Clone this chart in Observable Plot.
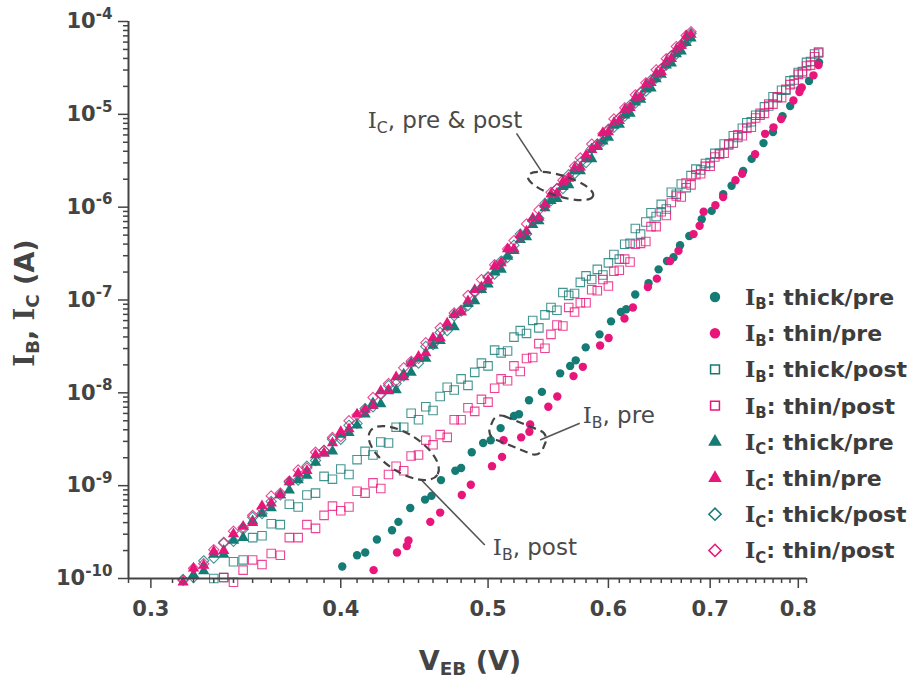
<!DOCTYPE html>
<html><head><meta charset="utf-8">
<script src="https://cdn.jsdelivr.net/npm/d3@7"></script>
<script src="https://cdn.jsdelivr.net/npm/@observablehq/plot@0.6"></script>
<style>
body{margin:0;background:#fff;}
#chart{width:916px;height:680px;}
</style></head><body><div id="chart"></div>
<script>
// ---------------- data (currents stored as log10 of I in amperes) ----------------
const xTickLabels = [0.3, 0.4, 0.5, 0.6, 0.7, 0.8];
const yTickExponents = [-10, -9, -8, -7, -6, -5, -4];

// I_B pre (filled circles)
const vIbThickPre = [0.4009,0.4100,0.4151,0.4225,0.4323,0.4365,0.4444,0.4545,0.4589,0.4656,0.4758,0.4800,0.4878,0.4963,0.5020,0.5096,0.5200,0.5240,0.5320,0.5425,0.5577,0.5662,0.5710,0.5797,0.5920,0.6024,0.6115,0.6164,0.6249,0.6376,0.6474,0.6557,0.6622,0.6688,0.6782,0.6911,0.7016,0.7140,0.7231,0.7359,0.7454,0.7589,0.7699,0.7811,0.7902,0.8022,0.8131,0.8255];
const logIbThickPre = [-9.87,-9.75,-9.72,-9.58,-9.48,-9.39,-9.24,-9.15,-9.11,-8.94,-8.84,-8.81,-8.64,-8.54,-8.51,-8.38,-8.25,-8.23,-8.08,-7.99,-7.79,-7.71,-7.65,-7.51,-7.37,-7.23,-7.13,-7.10,-6.94,-6.82,-6.67,-6.58,-6.54,-6.41,-6.31,-6.13,-6.04,-5.86,-5.77,-5.61,-5.48,-5.31,-5.19,-5.02,-4.91,-4.73,-4.64,-4.44];
const vIbThinPre = [0.4204,0.4356,0.4421,0.4432,0.4581,0.4650,0.4805,0.4871,0.5030,0.5107,0.5119,0.5257,0.5323,0.5329,0.5478,0.5553,0.5691,0.5772,0.5925,0.6002,0.6148,0.6227,0.6370,0.6457,0.6588,0.6672,0.6826,0.6889,0.6931,0.7056,0.7139,0.7274,0.7348,0.7493,0.7608,0.7705,0.7794,0.7941,0.8014,0.8042,0.8186,0.8248];
const logIbThinPre = [-9.91,-9.72,-9.65,-9.59,-9.39,-9.29,-9.10,-8.99,-8.79,-8.69,-8.51,-8.48,-8.42,-8.34,-8.15,-8.04,-7.82,-7.72,-7.49,-7.41,-7.20,-7.08,-6.86,-6.77,-6.58,-6.47,-6.29,-6.20,-6.05,-5.98,-5.89,-5.71,-5.64,-5.43,-5.21,-5.14,-5.05,-4.85,-4.76,-4.71,-4.58,-4.47];

// I_B post (open squares), shared voltage sweep
const vIbPost = [0.330,0.335,0.340,0.345,0.350,0.355,0.360,0.365,0.370,0.375,0.380,0.385,0.390,0.395,0.400,0.405,0.410,0.415,0.420,0.425,0.430,0.435,0.440,0.445,0.450,0.455,0.460,0.465,0.470,0.475,0.480,0.485,0.490,0.495,0.500,0.505,0.510,0.515,0.520,0.525,0.530,0.535,0.540,0.545,0.550,0.555,0.560,0.565,0.570,0.575,0.580,0.585,0.590,0.595,0.600,0.605,0.610,0.615,0.620,0.625,0.630,0.635,0.640,0.645,0.650,0.655,0.660,0.665,0.670,0.675,0.680,0.685,0.690,0.695,0.700,0.705,0.710,0.715,0.720,0.725,0.730,0.735,0.740,0.745,0.750,0.755,0.760,0.765,0.770,0.775,0.780,0.785,0.790,0.795,0.800,0.805,0.810,0.815,0.820,0.825];
const logIbThickPost = [-10.00,-9.99,-9.82,-9.80,-9.56,-9.54,-9.41,-9.42,-9.20,-9.23,
  -9.10,-9.08,-8.90,-8.93,-8.82,-8.88,-8.72,-8.63,-8.67,-8.53,
  -8.54,-8.37,-8.37,-8.22,-8.29,-8.15,-8.19,-8.04,-7.94,-7.97,
  -7.85,-7.92,-7.78,-7.68,-7.71,-7.54,-7.57,-7.55,-7.40,-7.33,
  -7.36,-7.22,-7.30,-7.16,-7.08,-7.11,-6.92,-6.95,-6.93,-6.81,
  -6.74,-6.78,-6.67,-6.73,-6.60,-6.51,-6.56,-6.40,-6.39,-6.23,
  -6.29,-6.16,-6.06,-6.10,-5.97,-6.02,-5.84,-5.86,-5.75,-5.79,
  -5.66,-5.59,-5.60,-5.53,-5.52,-5.42,-5.42,-5.32,-5.32,-5.23,
  -5.25,-5.15,-5.09,-5.08,-5.01,-5.01,-4.92,-4.91,-4.81,-4.82,
  -4.74,-4.74,-4.64,-4.63,-4.55,-4.54,-4.44,-4.43,-4.35,-4.33];
const logIbThinPost = [-10.15,-9.99,-10.04,-9.91,-9.80,-9.85,-9.73,-9.75,-9.56,-9.56,
  -9.42,-9.46,-9.32,-9.22,-9.27,-9.23,-9.06,-9.08,-8.97,-9.03,
  -8.88,-8.79,-8.84,-8.68,-8.67,-8.51,-8.56,-8.45,-8.48,-8.29,
  -8.29,-8.16,-8.20,-8.07,-8.10,-7.95,-7.85,-7.87,-7.71,-7.77,
  -7.63,-7.62,-7.47,-7.52,-7.37,-7.27,-7.28,-7.08,-7.13,-7.03,
  -7.03,-6.89,-6.90,-6.78,-6.85,-6.69,-6.68,-6.56,-6.59,-6.40,
  -6.39,-6.37,-6.21,-6.21,-6.05,-6.09,-5.95,-5.88,-5.89,-5.74,
  -5.76,-5.65,-5.64,-5.56,-5.56,-5.46,-5.43,-5.42,-5.33,-5.31,
  -5.22,-5.23,-5.15,-5.14,-5.04,-4.99,-4.99,-4.89,-4.89,-4.81,
  -4.82,-4.73,-4.68,-4.67,-4.57,-4.56,-4.48,-4.47,-4.38,-4.34];

// I_C (triangles = pre, diamonds = post), shared voltage sweep
const vIc = [0.315,0.320,0.325,0.330,0.335,0.340,0.345,0.350,0.355,0.360,0.365,0.370,0.375,0.380,0.385,0.390,0.395,0.400,0.405,0.410,0.415,0.420,0.425,0.430,0.435,0.440,0.445,0.450,0.455,0.460,0.465,0.470,0.475,0.480,0.485,0.490,0.495,0.500,0.505,0.510,0.515,0.520,0.525,0.530,0.535,0.540,0.545,0.550,0.555,0.560,0.565,0.570,0.575,0.580,0.585,0.590,0.595,0.600,0.605,0.610,0.615,0.620,0.625,0.630,0.635,0.640,0.645,0.650,0.655,0.660,0.665,0.670,0.675,0.680];
const logIcThickPre = [null,-9.96,-9.92,-9.74,-9.74,-9.59,-9.56,-9.38,-9.30,-9.24,
  -9.10,-9.05,-8.94,-8.89,-8.75,-8.65,-8.63,-8.45,-8.43,-8.35,
  -8.23,-8.11,-8.12,-7.98,-7.97,-7.80,-7.78,-7.63,-7.63,-7.49,
  -7.44,-7.29,-7.29,-7.13,-7.04,-7.01,-6.89,-6.83,-6.70,-6.67,
  -6.53,-6.47,-6.35,-6.32,-6.19,-6.15,-6.01,-5.93,-5.91,-5.78,
  -5.76,-5.61,-5.61,-5.48,-5.48,-5.34,-5.29,-5.25,-5.12,-5.11,
  -5.01,-4.99,-4.87,-4.84,-4.73,-4.72,-4.62,-4.57,-4.47,-4.45,
  -4.35,-4.32,-4.23,-4.18];
const logIcThinPre = [-10.04,-9.89,-9.86,-9.71,-9.70,-9.52,-9.44,-9.40,-9.22,-9.19,
  -9.10,-8.96,-8.87,-8.84,-8.67,-8.65,-8.54,-8.42,-8.39,-8.23,
  -8.18,-8.14,-7.98,-7.97,-7.83,-7.83,-7.68,-7.61,-7.57,-7.41,
  -7.41,-7.25,-7.16,-7.13,-7.01,-6.89,-6.86,-6.79,-6.64,-6.60,
  -6.45,-6.45,-6.30,-6.26,-6.12,-6.11,-5.97,-5.86,-5.85,-5.73,
  -5.69,-5.58,-5.57,-5.44,-5.38,-5.35,-5.20,-5.19,-5.09,-5.07,
  -4.95,-4.93,-4.82,-4.81,-4.68,-4.66,-4.56,-4.54,-4.43,-4.40,
  -4.30,-4.26,-4.16,-4.14];
const logIcThickPost = [-10.01,-9.99,-9.81,-9.78,-9.61,-9.60,-9.47,-9.34,-9.30,-9.17,
  -9.10,-8.96,-8.94,-8.79,-8.73,-8.62,-8.50,-8.50,-8.35,-8.33,
  -8.17,-8.15,-8.02,-7.92,-7.90,-7.82,-7.68,-7.68,-7.50,-7.48,
  -7.35,-7.33,-7.17,-7.11,-7.06,-6.91,-6.87,-6.75,-6.72,-6.58,
  -6.54,-6.41,-6.29,-6.29,-6.15,-6.12,-5.96,-5.93,-5.80,-5.80,
  -5.65,-5.64,-5.52,-5.52,-5.37,-5.32,-5.29,-5.16,-5.14,-5.04,
  -5.02,-4.90,-4.88,-4.77,-4.75,-4.63,-4.61,-4.51,-4.47,-4.37,
  -4.35,-4.25,-4.22,-4.13];
const logIcThinPost = [-10.02,-9.89,-9.84,-9.69,-9.62,-9.49,-9.45,-9.32,-9.25,-9.11,
  -9.08,-8.95,-8.83,-8.81,-8.64,-8.62,-8.48,-8.47,-8.30,-8.24,
  -8.19,-8.05,-8.01,-7.90,-7.87,-7.73,-7.66,-7.63,-7.46,-7.45,
  -7.30,-7.28,-7.14,-7.12,-6.95,-6.92,-6.78,-6.76,-6.62,-6.60,
  -6.45,-6.36,-6.32,-6.18,-6.14,-6.03,-5.99,-5.84,-5.80,-5.71,
  -5.68,-5.56,-5.47,-5.46,-5.32,-5.32,-5.21,-5.17,-5.05,-5.04,
  -4.93,-4.92,-4.79,-4.76,-4.66,-4.65,-4.52,-4.51,-4.40,-4.37,
  -4.27,-4.25,-4.15,-4.11];

// legend labels
const seriesNames = ["I_B: thick/pre","I_B: thin/pre","I_B: thick/post","I_B: thin/post","I_C: thick/pre","I_C: thin/pre","I_C: thick/post","I_C: thin/post"];

// annotations anchored in data units [V, log10 I]
const annText = [
  {pos:[0.417,-5.153], parts:[{t:"I",serif:true},{t:"C",sub:true},{t:", pre & post"}]},
  {pos:[0.5775,-8.331], parts:[{t:"I",serif:true},{t:"B",sub:true},{t:", pre"}]},
  {pos:[0.504,-9.752], parts:[{t:"I",serif:true},{t:"B",sub:true},{t:", post"}]}
];
const annLines = [
  [[0.5224,-5.210],[0.5427,-5.623]],
  [[0.5750,-8.334],[0.5414,-8.514]],
  [[0.4979,-9.645],[0.4523,-8.944]]
];
const annEllipses = [ {c:[0.5585,-5.777], rx:34, ry:10.5, rot:17}, {c:[0.4404,-8.654], rx:40, ry:19, rot:33} ];
const annRects = [ {c:[0.5234,-8.460], w:57, h:25, r:9, rot:22} ];

// ---------------- chart ----------------
const TEAL = "#147b75", PINK = "#e8167b", INK = "#444";
function rowsOf(vs, logs) {
  const out = [];
  vs.forEach((v, k) => { const e = logs[k]; if (e != null && e >= -10.04) out.push({v, i: Math.pow(10, e)}); });
  return out;
}
const series = [
  {data: rowsOf(vIbThickPre, logIbThickPre), symbol:"circle", color:TEAL, filled:true, r:4.2},
  {data: rowsOf(vIbThinPre, logIbThinPre), symbol:"circle", color:PINK, filled:true, r:4.2},
  {data: rowsOf(vIbPost, logIbThickPost), symbol:"square2", color:TEAL, filled:false, r:5.4},
  {data: rowsOf(vIbPost, logIbThinPost), symbol:"square2", color:PINK, filled:false, r:5.4},
  {data: rowsOf(vIc, logIcThickPre), symbol:"triangle", color:TEAL, filled:true, r:4.2},
  {data: rowsOf(vIc, logIcThinPre), symbol:"triangle", color:PINK, filled:true, r:4.2},
  {data: rowsOf(vIc, logIcThickPost), symbol:"diamond2", color:TEAL, filled:false, r:4.6},
  {data: rowsOf(vIc, logIcThinPost), symbol:"diamond2", color:PINK, filled:false, r:4.6}
];
const dotMarks = series.map(s => Plot.dot(s.data, s.filled
  ? {x:"v", y:"i", symbol:s.symbol, r:s.r, fill:s.color, stroke:"none"}
  : {x:"v", y:"i", symbol:s.symbol, r:s.r, fill:"none", stroke:s.color, strokeWidth:1.1, strokeOpacity:0.8}));

const xMinor = d3.range(29, 82).map(k => k / 100).filter(v => !xTickLabels.some(t => Math.abs(t - v) < 1e-9));
const yMajor = yTickExponents.map(e => Math.pow(10, e));
const yMinor = [];
yTickExponents.slice(0, -1).forEach(e => { for (let m = 2; m <= 9; m++) yMinor.push(m * Math.pow(10, e)); });

const chart = Plot.plot({
  width: 916, height: 680,
  marginLeft: 128, marginRight: 110, marginTop: 21, marginBottom: 102,
  x: {type: "log", domain: [0.29, 0.81]},
  y: {type: "log", domain: [1e-10, 1e-4]},
  style: {fontFamily: "'DejaVu Sans', sans-serif", fontSize: "21px", fontWeight: "bold", color: INK, background: "white"},
  marks: [
    Plot.axisX({ticks: xMinor, tickSize: 5, tickFormat: () => "", strokeWidth: 1.5, label: null}),
    Plot.axisX({ticks: xTickLabels, tickSize: 10, tickPadding: 13, tickFormat: d => d.toFixed(1), strokeWidth: 1.5, label: null}),
    Plot.axisY({ticks: yMinor, tickSize: 5, tickFormat: () => "", strokeWidth: 1.5, label: null}),
    Plot.axisY({ticks: yMajor, tickSize: 10, tickPadding: 6, tickFormat: d => String(Math.round(Math.log10(d))), strokeWidth: 1.5, label: null}),
    ...dotMarks,
    Plot.ruleY([1e-10], {stroke: INK, strokeWidth: 2}),
    Plot.ruleX([0.29], {stroke: INK, strokeWidth: 2})
  ]
});
document.getElementById("chart").appendChild(chart);

const svg = d3.select(chart);
const sx = chart.scale("x"), sy = chart.scale("y");
const px = p => [sx.apply(p[0]), sy.apply(Math.pow(10, p[1]))];

function rich(sel, parts, size, supScale = 0.68) {
  let shift = 0;
  for (const p of parts) {
    const ts = sel.append("tspan").text(p.t);
    const target = p.sub ? size * 0.2 : p.sup ? -size * 0.45 : 0;
    if (target !== shift) { ts.attr("dy", target - shift); shift = target; }
    if (p.sub || p.sup) ts.attr("font-size", size * supScale);
    if (p.serif) ts.attr("font-family", "'DejaVu Serif', serif");
  }
}
function parseName(name) {
  const m = name.match(/^I_(\w)(.*)$/);
  return [{t:"I", serif:true}, {t:m[1], sub:true}, {t:m[2]}];
}

// y tick labels as 10^n with superscripts
svg.selectAll('g[aria-label="y-axis tick label"] text').each(function() {
  const t = d3.select(this); const e = t.text();
  if (!e) return;
  t.text(null);
  rich(t, [{t:"10"}, {t:e, sup:true}], 21, 0.72);
});

// axis titles
const xt = svg.append("text").attr("x", 470).attr("y", 670).attr("text-anchor", "middle")
  .attr("font-size", 27).attr("font-weight", "bold").attr("fill", INK);
rich(xt, [{t:"V"}, {t:"EB", sub:true}, {t:" (V)"}], 27);
const yt = svg.append("text").attr("transform", "translate(34,303) rotate(-90)").attr("text-anchor", "middle")
  .attr("font-size", 27).attr("font-weight", "bold").attr("fill", INK);
rich(yt, [{t:"I", serif:true}, {t:"B", sub:true}, {t:", "}, {t:"I", serif:true}, {t:"C", sub:true}, {t:" (A)"}], 27);

// annotations
const ann = svg.append("g").attr("fill", "none").attr("stroke", INK);
annLines.forEach(l => { const a = px(l[0]), b = px(l[1]);
  ann.append("line").attr("x1", a[0]).attr("y1", a[1]).attr("x2", b[0]).attr("y2", b[1]).attr("stroke", "#555").attr("stroke-width", 1.6); });
annEllipses.forEach(e => { const c = px(e.c);
  ann.append("ellipse").attr("rx", e.rx).attr("ry", e.ry).attr("transform", `translate(${c[0]},${c[1]}) rotate(${e.rot})`)
    .attr("stroke-width", 2.2).attr("stroke-dasharray", "8,5"); });
annRects.forEach(r => { const c = px(r.c);
  ann.append("rect").attr("x", -r.w/2).attr("y", -r.h/2).attr("width", r.w).attr("height", r.h).attr("rx", r.r)
    .attr("transform", `translate(${c[0]},${c[1]}) rotate(${r.rot})`).attr("stroke-width", 2.2).attr("stroke-dasharray", "8,5"); });
annText.forEach(a => { const p = px(a.pos);
  const t = svg.append("text").attr("x", p[0]).attr("y", p[1]).attr("text-anchor", "start")
    .attr("font-size", 23).attr("font-weight", "normal").attr("fill", "#4a4a4a");
  rich(t, a.parts, 23); });

// legend
const lg = svg.append("g");
const legSym = {circle: [d3.symbolCircle, 85], square2: [d3.symbolSquare2, 100], triangle: [d3.symbolTriangle, 80], diamond2: [d3.symbolDiamond2, 95]};
series.forEach((s, k) => {
  const y = 297 + k * 36.2;
  const [type, size] = legSym[s.symbol];
  lg.append("path").attr("d", d3.symbol(type, size)()).attr("transform", `translate(715,${y})`)
    .attr("fill", s.filled ? s.color : "none").attr("stroke", s.filled ? "none" : s.color).attr("stroke-width", 1.5);
  const t = lg.append("text").attr("x", 745).attr("y", y + 8).attr("text-anchor", "start")
    .attr("font-size", 22).attr("font-weight", "bold").attr("fill", "#3d3d3d");
  rich(t, parseName(seriesNames[k]), 22);
});
</script></body></html>
